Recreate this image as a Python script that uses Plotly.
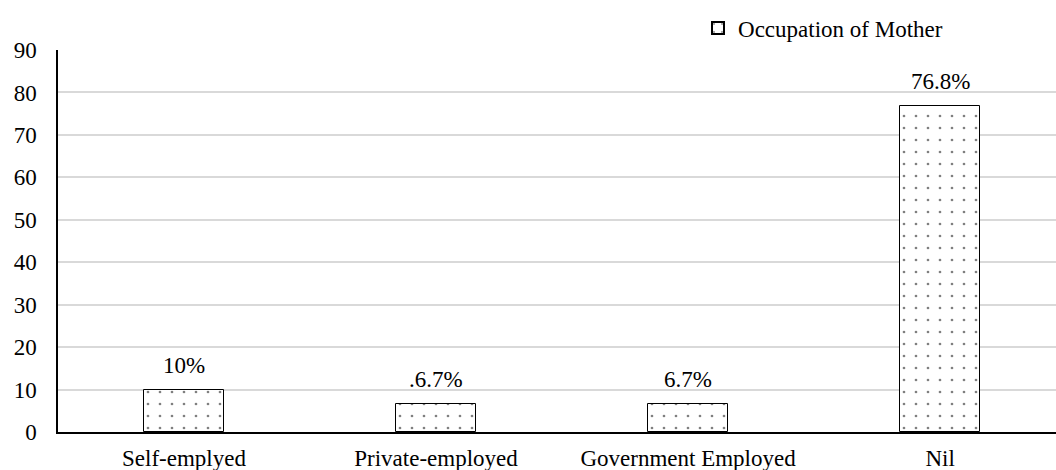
import plotly.graph_objects as go

categories = ["Self-emplyed", "Private-employed", "Government Employed", "Nil"]
values = [10, 6.7, 6.7, 76.8]
labels = ["10%", ".6.7%", "6.7%", "76.8%"]
series_name = "Occupation of Mother"
y_ticks = [0, 10, 20, 30, 40, 50, 60, 70, 80, 90]

font_family = "Times New Roman"
FS = 23

fig = go.Figure()
fig.add_trace(go.Bar(
    x=list(range(len(categories))),
    y=values,
    name=series_name,
    width=0.315,
    marker=dict(
        color="white",
        line=dict(color="black", width=1),
        pattern=dict(shape=".", fgcolor="black", bgcolor="white", size=12, solidity=0.04),
    ),
    showlegend=True,
))

for i, (v, t) in enumerate(zip(values, labels)):
    fig.add_annotation(
        x=i, y=v, text=t, showarrow=False,
        xanchor="center", yanchor="bottom", yshift=10,
        font=dict(family=font_family, size=FS, color="#000"),
    )

fig.update_layout(
    width=1056, height=470,
    margin=dict(l=58, r=0, t=50, b=38),
    paper_bgcolor="white", plot_bgcolor="white",
    font=dict(family=font_family, size=FS, color="#000"),
    bargap=0,
    showlegend=True,
    legend=dict(
        orientation="h", x=0.6413, y=1.0576, xanchor="left", yanchor="middle",
        font=dict(family=font_family, size=FS, color="#000"),
        bgcolor="rgba(0,0,0,0)",
        itemsizing="constant",
    ),
    xaxis=dict(
        tickmode="array", tickvals=list(range(len(categories))), ticktext=categories,
        range=[-0.5, 3.46],
        showline=True, linecolor="black", linewidth=1.5,
        showgrid=False, ticks="", zeroline=False,
        ticklabelstandoff=5,
        tickfont=dict(family=font_family, size=FS, color="#000"),
    ),
    yaxis=dict(
        range=[0, 90], tickvals=y_ticks,
        showline=True, linecolor="black", linewidth=1.5,
        showgrid=True, gridcolor="#d9d9d9", gridwidth=1.5,
        zeroline=False, ticks="",
        ticklabelstandoff=15,
        tickfont=dict(family=font_family, size=FS, color="#000"),
    ),
)

fig.write_html("out.html")
